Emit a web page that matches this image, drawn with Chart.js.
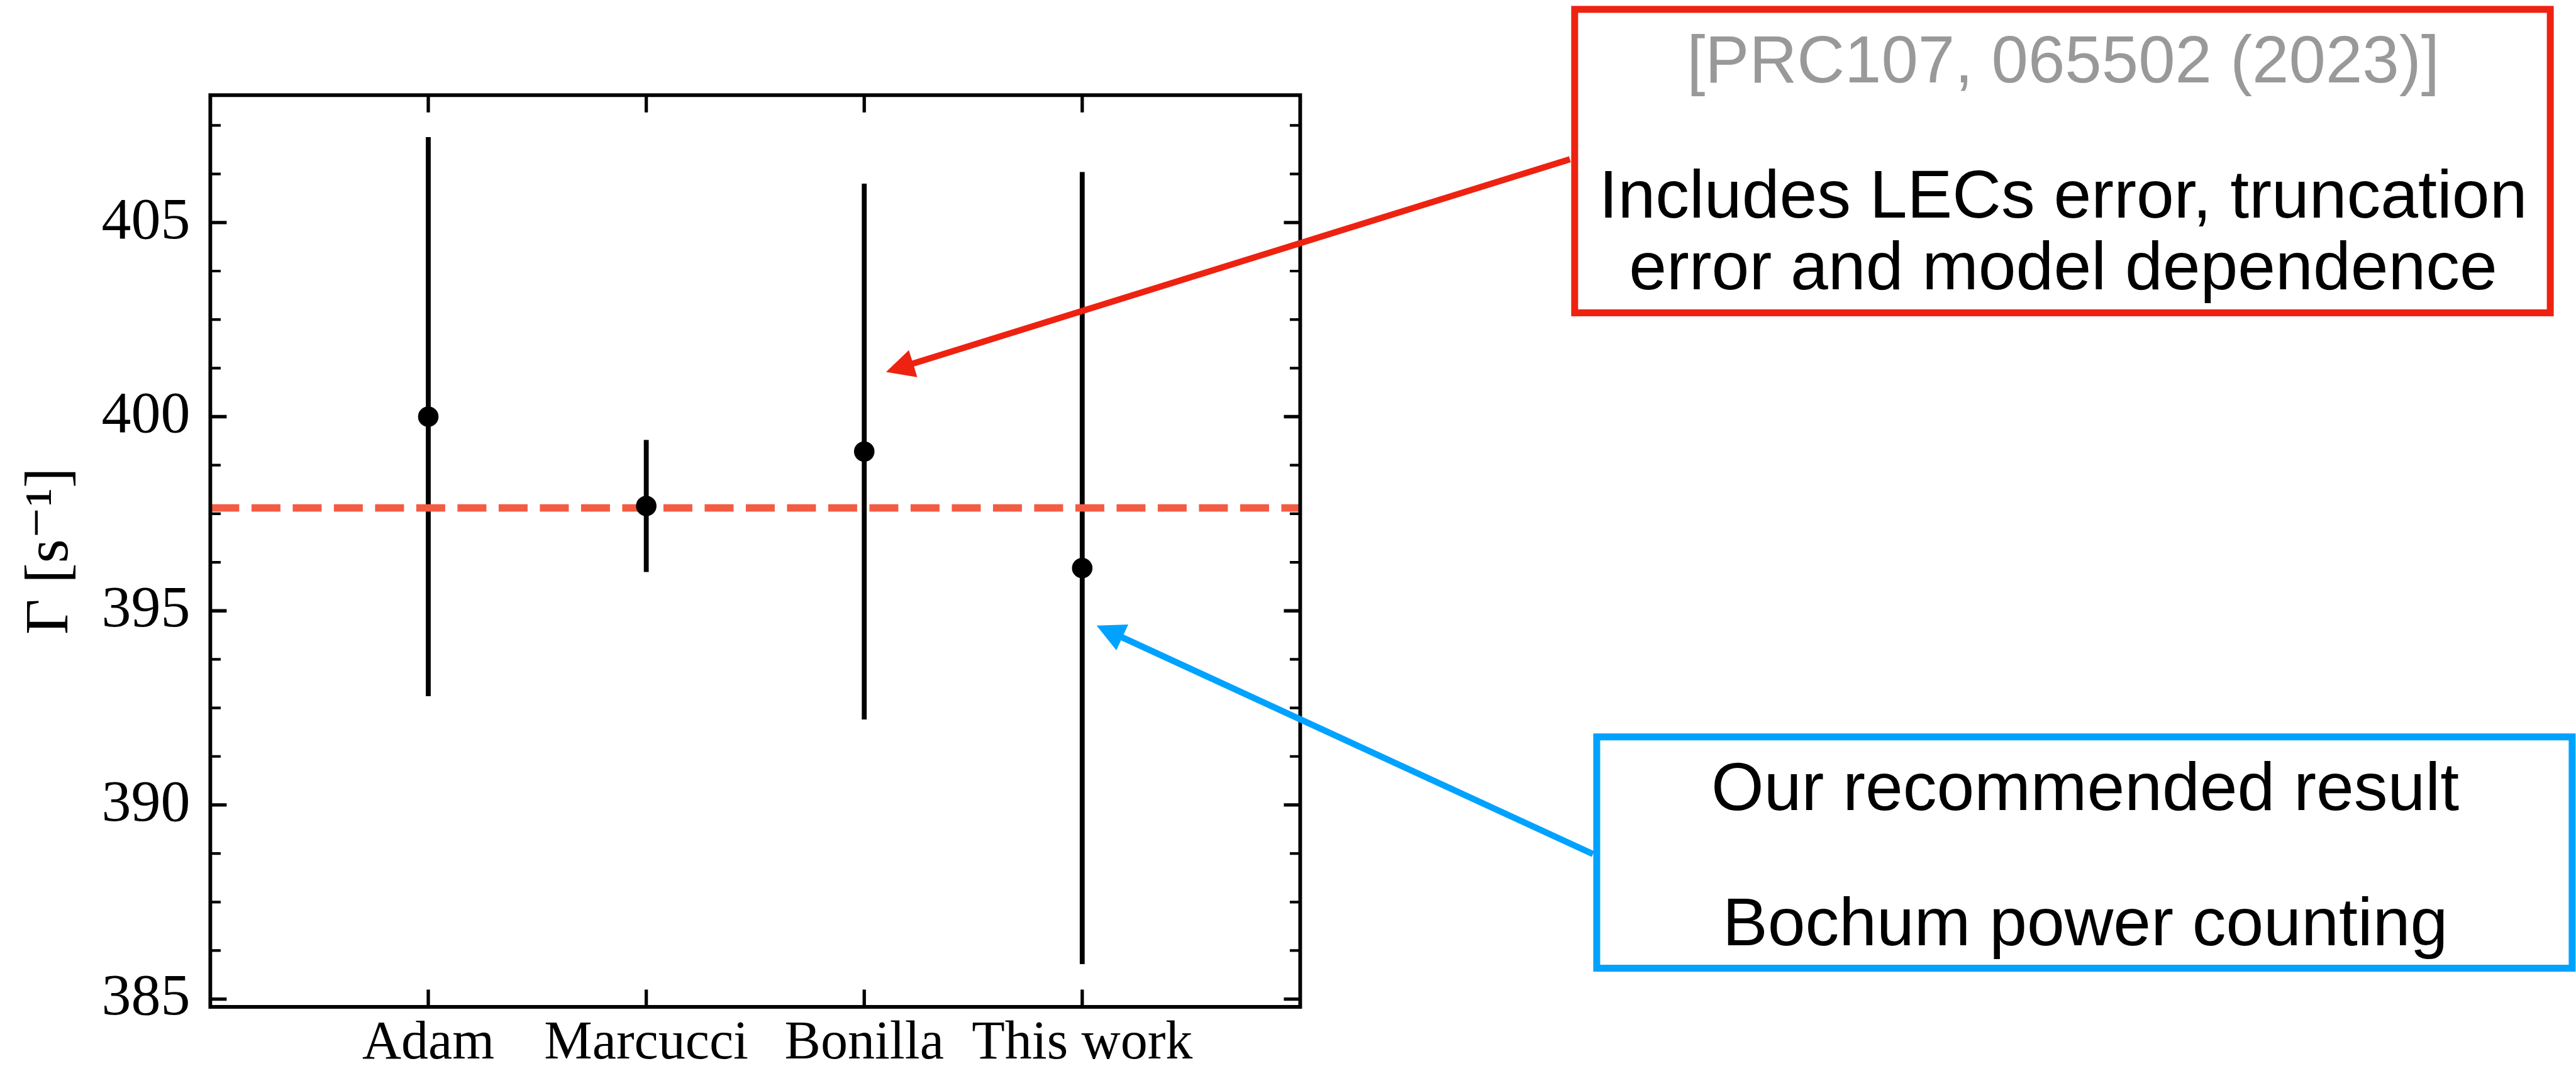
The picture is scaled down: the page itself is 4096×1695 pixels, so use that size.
<!DOCTYPE html>
<html>
<head>
<meta charset="utf-8">
<script src="https://cdn.jsdelivr.net/npm/chart.js@4.4.1/dist/chart.umd.min.js"></script>
<style>
  html, body { margin: 0; padding: 0; background: #ffffff; }
  #wrap { width: 4096px; height: 1695px; position: relative; }
</style>
</head>
<body>
<div id="wrap"><canvas id="c" width="4096" height="1695"></canvas></div>
<script>
// ---- data ----
const categories = ['Adam', 'Marcucci', 'Bonilla', 'This work'];
const gammaValues = [400.0, 397.7, 399.1, 396.1];   // central values, s^-1
const gammaErrors = [7.2, 1.7, 6.9, 10.2];          // symmetric uncertainties
const referenceGamma = 397.65;                      // dashed reference level
const yTickValues = [385, 390, 395, 400, 405];
const yMinorStep = 1.25;
const yRange = [384.80, 408.28];
const xRange = [0, 5];
const yAxisTitle = 'Γ [s⁻¹]';

const refNoteSource = '[PRC107, 065502 (2023)]';
const refNoteLines = ['Includes LECs error, truncation', 'error and model dependence'];
const ourNoteLines = ['Our recommended result', 'Bochum power counting'];
// arrow tips, in data units
const refArrowTip = { x: 3.10, y: 401.15 };
const ourArrowTip = { x: 4.066, y: 394.62 };

// ---- layout ----
const W = 4096, H = 1695;
const AREA = { left: 334.4, top: 151.3, right: 2067.4, bottom: 1601 };
const RED = '#ee2211', BLUE = '#00a2ff', DASH = '#f45b43';

const serif = '"Liberation Serif", "DejaVu Serif", serif';
const sans = '"Liberation Sans", Arial, Helvetica, sans-serif';

// inward ticks on all four sides plus the closed frame
const framePlugin = {
  id: 'frame',
  afterDatasetsDraw(chart) {
    const { ctx, chartArea: a, scales: { x, y } } = chart;
    ctx.save();
    ctx.strokeStyle = '#000';
    ctx.lineCap = 'butt';
    for (let v = yTickValues[0]; v <= yRange[1] + 1e-9; v += yMinorStep) {
      const major = yTickValues.some(t => Math.abs(t - v) < 1e-6);
      const py = y.getPixelForValue(v);
      const len = major ? 26 : 16.5;
      ctx.lineWidth = major ? 5.3 : 4.2;
      ctx.beginPath();
      ctx.moveTo(a.left, py); ctx.lineTo(a.left + len, py);
      ctx.moveTo(a.right, py); ctx.lineTo(a.right - len, py);
      ctx.stroke();
    }
    ctx.lineWidth = 5.3;
    categories.forEach((_, i) => {
      const px = x.getPixelForValue(i + 1);
      ctx.beginPath();
      ctx.moveTo(px, a.bottom); ctx.lineTo(px, a.bottom - 27.5);
      ctx.moveTo(px, a.top); ctx.lineTo(px, a.top + 27.5);
      ctx.stroke();
    });
    ctx.lineWidth = 5.9;
    ctx.strokeRect(a.left, a.top, a.right - a.left, a.bottom - a.top);
    ctx.restore();
  }
};

function drawArrow(ctx, x0, y0, x1, y1, color) {
  const dx = x1 - x0, dy = y1 - y0, L = Math.hypot(dx, dy);
  const ux = dx / L, uy = dy / L;
  const headLen = 45, headHalf = 22.5;
  const bx = x1 - ux * headLen, by = y1 - uy * headLen;
  ctx.strokeStyle = color;
  ctx.fillStyle = color;
  ctx.lineWidth = 10;
  ctx.lineCap = 'butt';
  ctx.beginPath();
  ctx.moveTo(x0, y0);
  ctx.lineTo(bx + ux * 4, by + uy * 4);
  ctx.stroke();
  ctx.beginPath();
  ctx.moveTo(x1, y1);
  ctx.lineTo(bx - uy * headHalf, by + ux * headHalf);
  ctx.lineTo(bx + uy * headHalf, by - ux * headHalf);
  ctx.closePath();
  ctx.fill();
}

function drawBox(ctx, l, t, r, b, color) {
  ctx.fillStyle = '#ffffff';
  ctx.fillRect(l, t, r - l, b - t);
  ctx.strokeStyle = color;
  ctx.lineWidth = 11;
  ctx.strokeRect(l, t, r - l, b - t);
}

// callout boxes with arrows pointing into the plot
const notesPlugin = {
  id: 'notes',
  afterDraw(chart) {
    const { ctx, scales: { x, y } } = chart;
    ctx.save();
    drawArrow(ctx, 2496.3, 253.3, x.getPixelForValue(refArrowTip.x), y.getPixelForValue(refArrowTip.y), RED);
    drawArrow(ctx, 2533, 1358, x.getPixelForValue(ourArrowTip.x), y.getPixelForValue(ourArrowTip.y), BLUE);

    drawBox(ctx, 2503.8, 14.9, 4055.1, 497.4, RED);
    drawBox(ctx, 2538.9, 1171.7, 4089.9, 1539.5, BLUE);

    ctx.textAlign = 'center';
    ctx.textBaseline = 'alphabetic';
    ctx.font = '105px ' + sans;
    ctx.fillStyle = '#999999';
    ctx.fillText(refNoteSource, 3280.5, 131);
    ctx.font = '107.5px ' + sans;
    ctx.fillStyle = '#000000';
    ctx.fillText(refNoteLines[0], 3280.5, 345.9);
    ctx.fillText(refNoteLines[1], 3280.5, 460.3);
    ctx.fillText(ourNoteLines[0], 3315.6, 1288.4);
    ctx.fillText(ourNoteLines[1], 3315.6, 1502.5);
    ctx.restore();
  }
};

const errorBarSets = categories.map((name, i) => ({
  label: name + ' uncertainty',
  data: [
    { x: i + 1, y: gammaValues[i] - gammaErrors[i] },
    { x: i + 1, y: gammaValues[i] + gammaErrors[i] }
  ],
  showLine: true,
  borderColor: '#000000',
  borderWidth: 7.8,
  borderCapStyle: 'butt',
  pointRadius: 0,
  order: 3
}));

const referenceSet = {
  label: 'reference',
  data: [{ x: xRange[0], y: referenceGamma }, { x: xRange[1], y: referenceGamma }],
  showLine: true,
  borderColor: DASH,
  borderWidth: 11.7,
  borderDash: [46, 19.5],
  borderCapStyle: 'butt',
  pointRadius: 0,
  order: 2
};

const pointSet = {
  label: 'Γ',
  data: categories.map((_, i) => ({ x: i + 1, y: gammaValues[i] })),
  pointRadius: 16.3,
  pointBackgroundColor: '#000000',
  pointBorderWidth: 0,
  pointHoverRadius: 16.3,
  order: 1
};

new Chart(document.getElementById('c'), {
  type: 'scatter',
  data: { datasets: [...errorBarSets, referenceSet, pointSet] },
  options: {
    responsive: false,
    devicePixelRatio: 1,
    animation: false,
    events: [],
    layout: { padding: { left: 0, top: AREA.top, right: W - AREA.right, bottom: 0 } },
    plugins: { legend: { display: false }, tooltip: { enabled: false } },
    scales: {
      x: {
        type: 'linear',
        min: xRange[0],
        max: xRange[1],
        grid: { display: false, drawTicks: false, tickLength: 0 },
        border: { display: false },
        afterBuildTicks(scale) { scale.ticks = categories.map((_, i) => ({ value: i + 1 })); },
        afterFit(scale) { scale.height = H - AREA.bottom; },
        ticks: {
          autoSkip: false,
          maxRotation: 0,
          padding: 16,
          color: '#000000',
          font: { family: serif, size: 86, lineHeight: 1 },
          callback: (v) => categories[Math.round(v) - 1]
        }
      },
      y: {
        type: 'linear',
        min: yRange[0],
        max: yRange[1],
        grid: { display: false, drawTicks: false, tickLength: 0 },
        border: { display: false },
        afterBuildTicks(scale) { scale.ticks = yTickValues.map(v => ({ value: v })); },
        afterFit(scale) { scale.width = AREA.left; },
        ticks: {
          padding: 32,
          color: '#000000',
          font: { family: serif, size: 94, lineHeight: 1 },
          callback: (v) => String(v)
        },
        title: {
          display: true,
          text: yAxisTitle,
          color: '#000000',
          font: { family: serif, size: 98, lineHeight: 1 },
          padding: { top: 32, bottom: 0 }
        }
      }
    }
  },
  plugins: [framePlugin, notesPlugin]
});
</script>
</body>
</html>
